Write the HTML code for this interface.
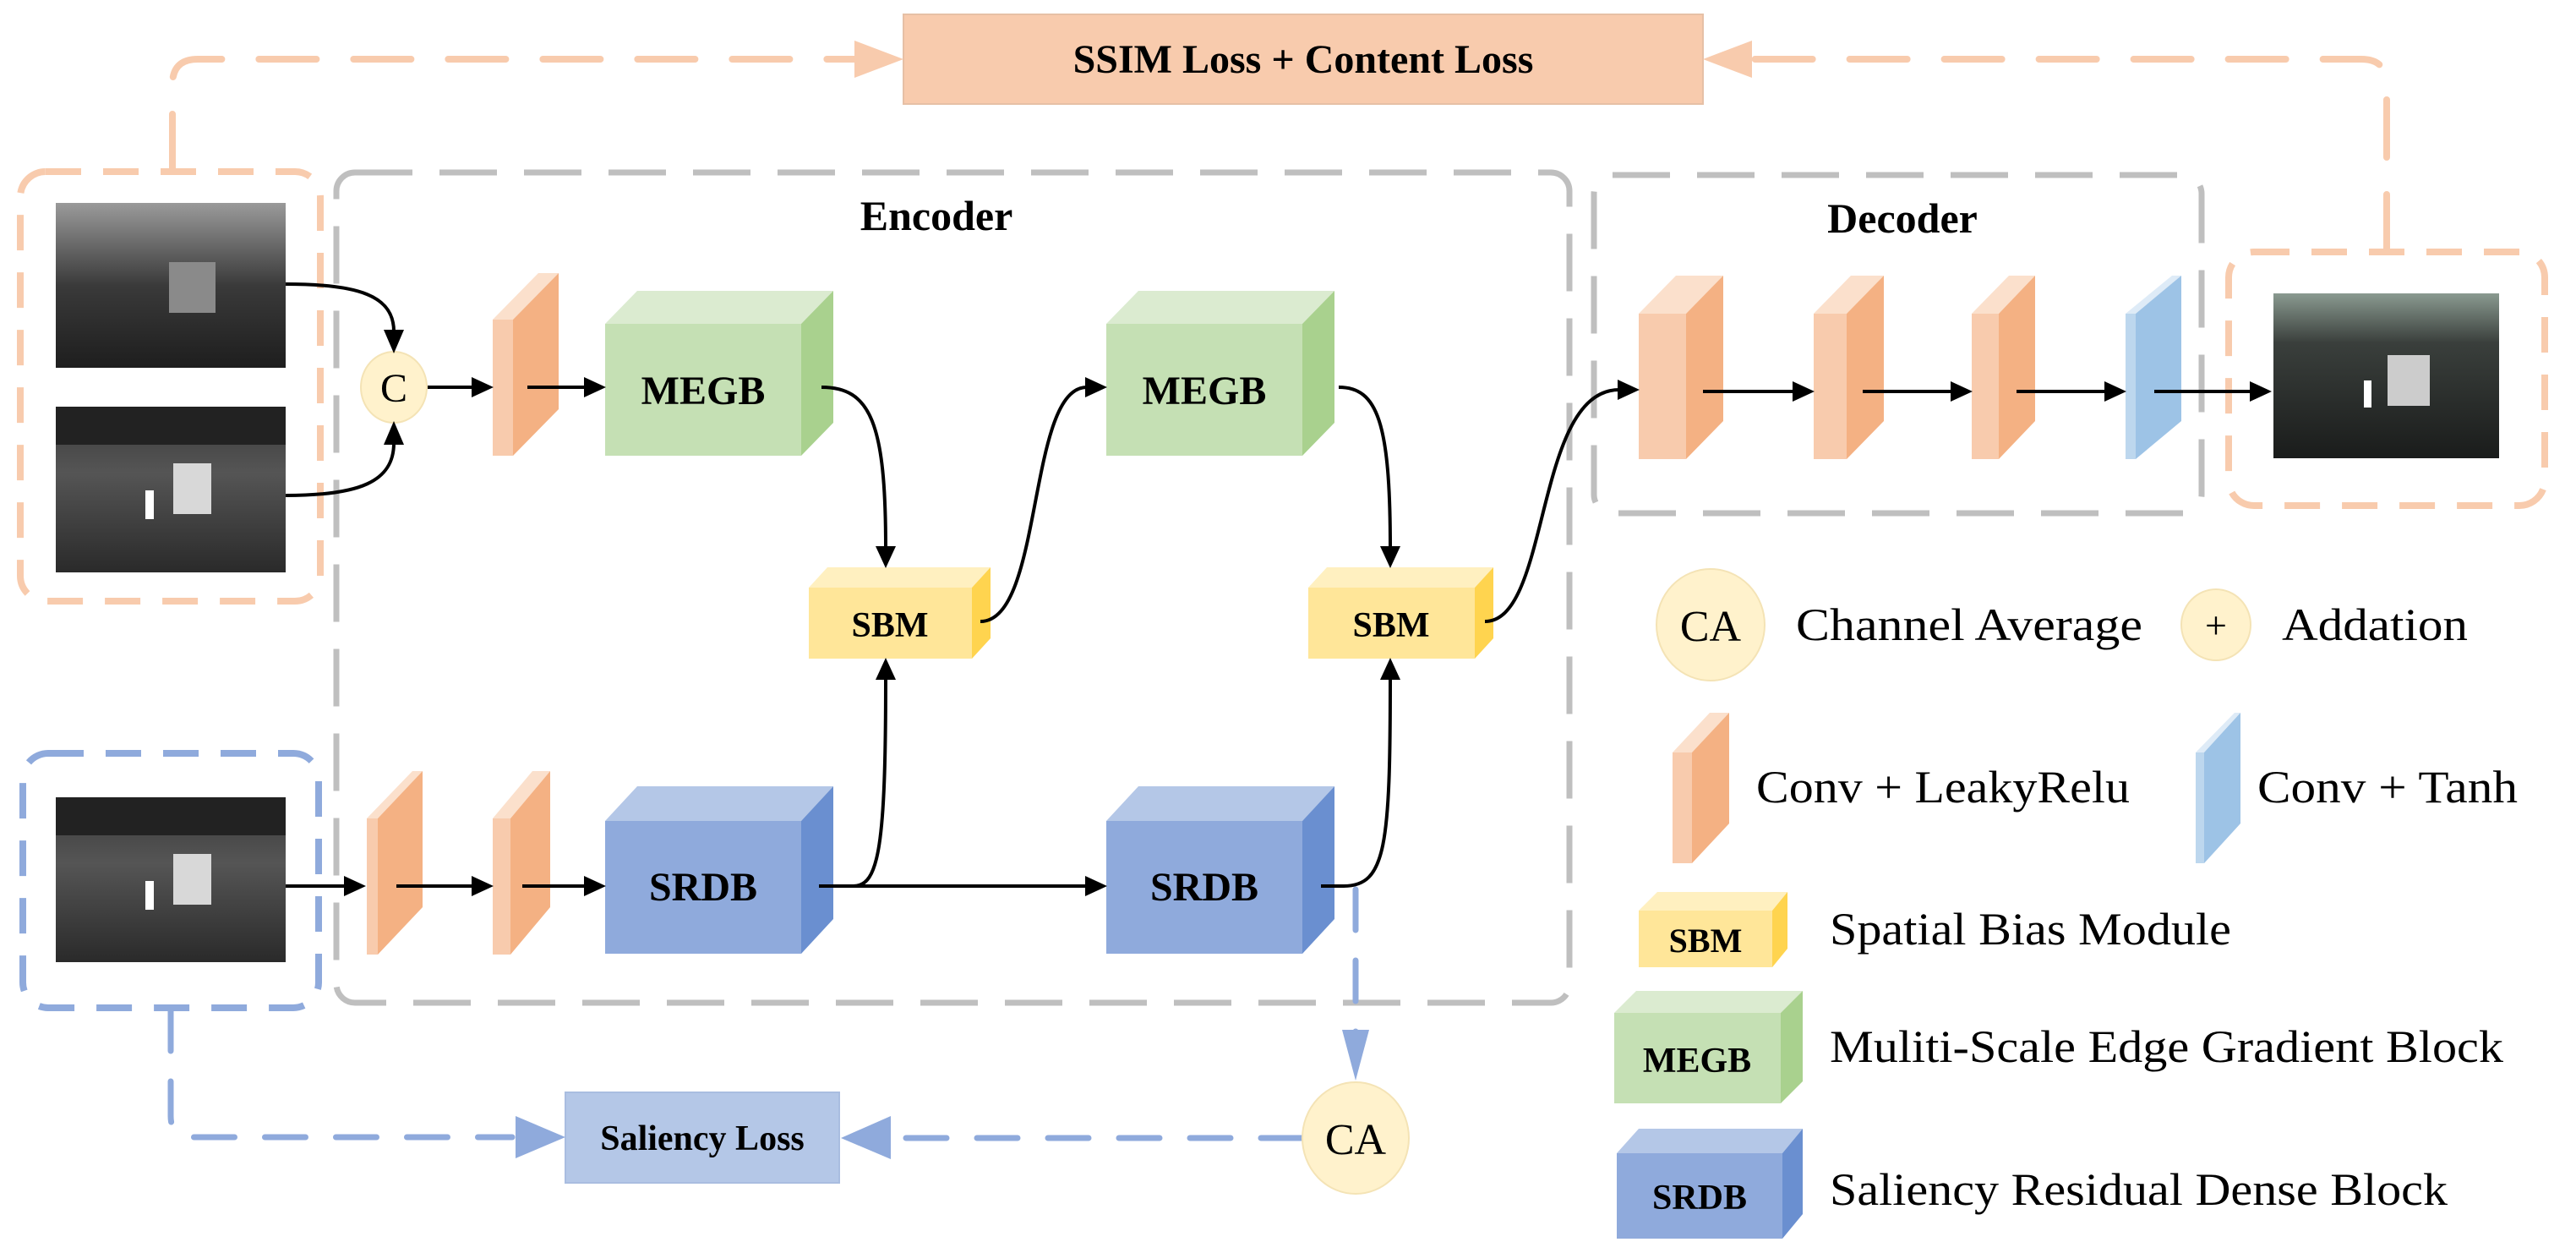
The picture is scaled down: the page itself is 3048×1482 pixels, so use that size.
<!DOCTYPE html>
<html><head><meta charset="utf-8"><style>
html,body{margin:0;padding:0;background:#fff;}
svg{display:block;}
text{font-family:"Liberation Serif",serif;}
</style></head><body>
<svg width="3048" height="1482" viewBox="0 0 3048 1482" xmlns="http://www.w3.org/2000/svg">
<defs>
<linearGradient id="img1" x1="0" y1="0" x2="0" y2="1">
<stop offset="0" stop-color="#9a9a9a"/><stop offset="0.25" stop-color="#6a6a6a"/><stop offset="0.5" stop-color="#3a3a3a"/><stop offset="1" stop-color="#1e1e1e"/></linearGradient>
<linearGradient id="img2" x1="0" y1="0" x2="0" y2="1">
<stop offset="0" stop-color="#3a3a3a"/><stop offset="0.4" stop-color="#555"/><stop offset="1" stop-color="#2a2a2a"/></linearGradient>
<linearGradient id="img3" x1="0" y1="0" x2="0" y2="1">
<stop offset="0" stop-color="#8a9a90"/><stop offset="0.3" stop-color="#3a3f3c"/><stop offset="1" stop-color="#1a1c1b"/></linearGradient>
</defs>

<!-- SSIM loss box -->
<rect x="1069" y="17" width="946" height="106" fill="#f8cbad" stroke="#e6c0a6" stroke-width="2"/>
<text x="1542" y="86" font-size="48" font-weight="bold" text-anchor="middle">SSIM Loss + Content Loss</text>

<!-- orange dashed feedback lines -->
<g fill="none" stroke="#f8cbad" stroke-width="8" stroke-dasharray="68 44" stroke-linecap="round">
<path d="M204,203 L204,100 Q204,70 234,70 L1011,70"/>
<path d="M2824,298 L2824,100 Q2824,70 2794,70 L2073,70"/>
</g>
<polygon points="1011,48 1069,70 1011,92" fill="#f8cbad"/>
<polygon points="2073,48 2015,70 2073,92" fill="#f8cbad"/>

<!-- left orange dashed box -->
<rect x="24" y="203" width="355" height="508" rx="30" fill="none" stroke="#f8cbad" stroke-width="8" stroke-dasharray="42 26"/>
<!-- right orange dashed box -->
<rect x="2637" y="298" width="374" height="300" rx="30" fill="none" stroke="#f8cbad" stroke-width="8" stroke-dasharray="42 26"/>
<!-- blue dashed box -->
<rect x="27" y="891" width="350" height="301" rx="30" fill="none" stroke="#8faadc" stroke-width="8" stroke-dasharray="42 26"/>

<!-- encoder / decoder gray dashed -->
<rect x="398" y="204" width="1459" height="982" rx="22" fill="none" stroke="#bfbfbf" stroke-width="7" stroke-dasharray="68 32"/>
<rect x="1886" y="207" width="719" height="400" rx="22" fill="none" stroke="#bfbfbf" stroke-width="7" stroke-dasharray="68 32"/>
<text x="1108" y="272" font-size="50" font-weight="bold" text-anchor="middle">Encoder</text>
<text x="2251" y="275" font-size="50" font-weight="bold" text-anchor="middle">Decoder</text>

<!-- images -->
<rect x="66" y="240" width="272" height="195" fill="url(#img1)"/>
<rect x="200" y="310" width="55" height="60" fill="#8a8a8a"/>
<rect x="66" y="481" width="272" height="196" fill="url(#img2)"/>
<rect x="66" y="481" width="272" height="45" fill="#222"/>
<rect x="205" y="548" width="45" height="60" fill="#d8d8d8"/>
<rect x="172" y="580" width="10" height="34" fill="#fff"/>
<rect x="66" y="943" width="272" height="195" fill="url(#img2)"/>
<rect x="66" y="943" width="272" height="45" fill="#222"/>
<rect x="205" y="1010" width="45" height="60" fill="#d8d8d8"/>
<rect x="172" y="1042" width="10" height="34" fill="#fff"/>
<rect x="2690" y="347" width="267" height="195" fill="url(#img3)"/>
<rect x="2825" y="420" width="50" height="60" fill="#ccc"/>
<rect x="2797" y="450" width="9" height="32" fill="#fff"/>

<!-- C circle -->
<ellipse cx="466" cy="458" rx="39" ry="42" fill="#fff2cc" stroke="#f4e3b5" stroke-width="2"/>
<text x="466" y="475" font-size="48" text-anchor="middle">C</text>

<!-- conv slabs: encoder -->
<g>
<polygon points="583,378 637,323 661,323 607,378" fill="#fbe0cc"/>
<rect x="583" y="378" width="24" height="161" fill="#f8cbad"/>
<polygon points="607,378 661,323 661,484 607,539" fill="#f4b183"/>

<polygon points="434,968 488,912 500,912 447,968" fill="#fbe0cc"/>
<rect x="434" y="968" width="13" height="161" fill="#f8cbad"/>
<polygon points="447,968 500,912 500,1073 447,1129" fill="#f4b183"/>

<polygon points="583,968 630,912 651,912 604,968" fill="#fbe0cc"/>
<rect x="583" y="968" width="21" height="161" fill="#f8cbad"/>
<polygon points="604,968 651,912 651,1073 604,1129" fill="#f4b183"/>
</g>

<!-- decoder convs -->
<g>
<polygon points="1939,371 1983,326 2039,326 1995,371" fill="#fbe0cc"/>
<rect x="1939" y="371" width="56" height="172" fill="#f8cbad"/>
<polygon points="1995,371 2039,326 2039,498 1995,543" fill="#f4b183"/>

<polygon points="2146,371 2190,326 2229,326 2185,371" fill="#fbe0cc"/>
<rect x="2146" y="371" width="39" height="172" fill="#f8cbad"/>
<polygon points="2185,371 2229,326 2229,498 2185,543" fill="#f4b183"/>

<polygon points="2333,371 2377,326 2408,326 2365,371" fill="#fbe0cc"/>
<rect x="2333" y="371" width="32" height="172" fill="#f8cbad"/>
<polygon points="2365,371 2408,326 2408,498 2365,543" fill="#f4b183"/>

<polygon points="2515,371 2570,326 2581,326 2527,371" fill="#deebf7"/>
<rect x="2515" y="371" width="12" height="172" fill="#bdd7ee"/>
<polygon points="2527,371 2581,326 2581,498 2527,543" fill="#9dc3e6"/>
</g>

<!-- MEGB cubes -->
<g>
<polygon points="716,383 754,344 986,344 948,383" fill="#dbebd0"/>
<rect x="716" y="383" width="232" height="156" fill="#c5e0b4"/>
<polygon points="948,383 986,344 986,500 948,539" fill="#a9d18e"/>
<text x="832" y="478" font-size="48" font-weight="bold" text-anchor="middle">MEGB</text>

<polygon points="1309,383 1347,344 1579,344 1541,383" fill="#dbebd0"/>
<rect x="1309" y="383" width="232" height="156" fill="#c5e0b4"/>
<polygon points="1541,383 1579,344 1579,500 1541,539" fill="#a9d18e"/>
<text x="1425" y="478" font-size="48" font-weight="bold" text-anchor="middle">MEGB</text>
</g>

<!-- SRDB cubes -->
<g>
<polygon points="716,971 754,930 986,930 948,971" fill="#b4c7e7"/>
<rect x="716" y="971" width="232" height="157" fill="#8faadc"/>
<polygon points="948,971 986,930 986,1087 948,1128" fill="#6a8fd0"/>
<text x="832" y="1065" font-size="48" font-weight="bold" text-anchor="middle">SRDB</text>

<polygon points="1309,971 1347,930 1579,930 1541,971" fill="#b4c7e7"/>
<rect x="1309" y="971" width="232" height="157" fill="#8faadc"/>
<polygon points="1541,971 1579,930 1579,1087 1541,1128" fill="#6a8fd0"/>
<text x="1425" y="1065" font-size="48" font-weight="bold" text-anchor="middle">SRDB</text>
</g>

<!-- SBM -->
<g>
<polygon points="957,695 979,671 1172,671 1150,695" fill="#fff0c0"/>
<rect x="957" y="695" width="193" height="84" fill="#ffe699"/>
<polygon points="1150,695 1172,671 1172,755 1150,779" fill="#ffd44f"/>
<text x="1053" y="753" font-size="42" font-weight="bold" text-anchor="middle">SBM</text>

<polygon points="1548,695 1570,671 1767,671 1745,695" fill="#fff0c0"/>
<rect x="1548" y="695" width="197" height="84" fill="#ffe699"/>
<polygon points="1745,695 1767,671 1767,755 1745,779" fill="#ffd44f"/>
<text x="1646" y="753" font-size="42" font-weight="bold" text-anchor="middle">SBM</text>
</g>

<!-- black connectors -->
<g fill="none" stroke="#000" stroke-width="4">
<path d="M338,336 C425,336 466,350 466,392"/>
<path d="M338,586 C425,586 466,570 466,524"/>
<path d="M506,458 L560,458"/>
<path d="M624,458 L693,458"/>
<path d="M972,458 C1030,458 1048,500 1048,648"/>
<path d="M1160,735 C1235,735 1215,458 1286,458"/>
<path d="M1584,458 C1630,458 1645,500 1645,648"/>
<path d="M1757,735 C1835,735 1815,461 1916,461"/>
<path d="M969,1048 L1010,1048 C1040,1048 1048,1000 1048,802"/>
<path d="M969,1048 L1286,1048"/>
<path d="M1563,1048 L1590,1048 C1640,1048 1645,1000 1645,802"/>
<path d="M338,1048 L409,1048"/>
<path d="M469,1048 L560,1048"/>
<path d="M618,1048 L693,1048"/>
<path d="M2015,463 L2123,463"/>
<path d="M2204,463 L2310,463"/>
<path d="M2386,463 L2492,463"/>
<path d="M2549,463 L2664,463"/>
</g>
<g fill="#000">
<polygon points="454,390 478,390 466,418"/>
<polygon points="454,526 478,526 466,498"/>
<polygon points="558,446 558,470 584,458"/>
<polygon points="691,446 691,470 717,458"/>
<polygon points="1036,646 1060,646 1048,672"/>
<polygon points="1284,446 1284,470 1310,458"/>
<polygon points="1633,646 1657,646 1645,672"/>
<polygon points="1914,449 1914,473 1940,461"/>
<polygon points="1036,804 1060,804 1048,778"/>
<polygon points="1284,1036 1284,1060 1310,1048"/>
<polygon points="1633,804 1657,804 1645,778"/>
<polygon points="407,1036 407,1060 433,1048"/>
<polygon points="558,1036 558,1060 584,1048"/>
<polygon points="691,1036 691,1060 717,1048"/>
<polygon points="2121,451 2121,475 2147,463"/>
<polygon points="2308,451 2308,475 2334,463"/>
<polygon points="2490,451 2490,475 2516,463"/>
<polygon points="2662,451 2662,475 2688,463"/>
</g>

<!-- blue saliency path -->
<rect x="669" y="1292" width="324" height="107" fill="#b4c7e7" stroke="#a9bde0" stroke-width="2"/>
<text x="831" y="1360" font-size="42" font-weight="bold" text-anchor="middle">Saliency Loss</text>
<g fill="none" stroke="#8faadc" stroke-width="7" stroke-dasharray="48 36" stroke-linecap="round">
<path d="M202,1195 L202,1320 Q202,1345 227,1345 L606,1345"/>
<path d="M1540,1346 L1058,1346"/>
<path d="M1604,1052 L1604,1222"/>
</g>
<polygon points="610,1320 669,1345 610,1370" fill="#8faadc"/>
<polygon points="1054,1320 995,1346 1054,1371" fill="#8faadc"/>
<polygon points="1588,1218 1620,1218 1604,1278" fill="#8faadc"/>
<ellipse cx="1604" cy="1346" rx="63" ry="66" fill="#fff2cc" stroke="#f4e3b5" stroke-width="2"/>
<text x="1604" y="1365" font-size="52" text-anchor="middle">CA</text>

<!-- legend -->
<ellipse cx="2024" cy="739" rx="64" ry="66" fill="#fff2cc" stroke="#f4e3b5" stroke-width="2"/>
<text x="2024" y="758" font-size="52" text-anchor="middle">CA</text>
<text x="2125" y="757" font-size="54" textLength="410" lengthAdjust="spacingAndGlyphs">Channel Average</text>
<ellipse cx="2622" cy="739" rx="41" ry="42" fill="#fff2cc" stroke="#f4e3b5" stroke-width="2"/>
<text x="2622" y="755" font-size="46" text-anchor="middle">+</text>
<text x="2700" y="757" font-size="54" textLength="220" lengthAdjust="spacingAndGlyphs">Addation</text>

<polygon points="1979,890 2023,843 2046,843 2002,890" fill="#fbe0cc"/>
<rect x="1979" y="890" width="23" height="131" fill="#f8cbad"/>
<polygon points="2002,890 2046,843 2046,974 2002,1021" fill="#f4b183"/>
<text x="2078" y="949" font-size="54" textLength="442" lengthAdjust="spacingAndGlyphs">Conv + LeakyRelu</text>

<polygon points="2598,890 2644,843 2651,843 2608,890" fill="#deebf7"/>
<rect x="2598" y="890" width="10" height="131" fill="#bdd7ee"/>
<polygon points="2608,890 2651,843 2651,974 2608,1021" fill="#9dc3e6"/>
<text x="2671" y="949" font-size="54" textLength="308" lengthAdjust="spacingAndGlyphs">Conv + Tanh</text>

<polygon points="1939,1077 1961,1055 2115,1055 2097,1077" fill="#fff0c0"/>
<rect x="1939" y="1077" width="158" height="67" fill="#ffe699"/>
<polygon points="2097,1077 2115,1055 2115,1122 2097,1144" fill="#ffd44f"/>
<text x="2018" y="1126" font-size="40" font-weight="bold" text-anchor="middle">SBM</text>
<text x="2165" y="1117" font-size="54" textLength="475" lengthAdjust="spacingAndGlyphs">Spatial Bias Module</text>

<polygon points="1910,1198 1936,1172 2133,1172 2107,1198" fill="#dbebd0"/>
<rect x="1910" y="1198" width="197" height="107" fill="#c5e0b4"/>
<polygon points="2107,1198 2133,1172 2133,1279 2107,1305" fill="#a9d18e"/>
<text x="2008" y="1268" font-size="42" font-weight="bold" text-anchor="middle">MEGB</text>
<text x="2165" y="1256" font-size="54" textLength="797" lengthAdjust="spacingAndGlyphs">Muliti-Scale Edge Gradient Block</text>

<polygon points="1913,1364 1939,1335 2133,1335 2109,1364" fill="#b4c7e7"/>
<rect x="1913" y="1364" width="196" height="101" fill="#8faadc"/>
<polygon points="2109,1364 2133,1335 2133,1436 2109,1465" fill="#6a8fd0"/>
<text x="2011" y="1430" font-size="42" font-weight="bold" text-anchor="middle">SRDB</text>
<text x="2165" y="1425" font-size="54" textLength="731" lengthAdjust="spacingAndGlyphs">Saliency Residual Dense Block</text>
</svg>
</body></html>
